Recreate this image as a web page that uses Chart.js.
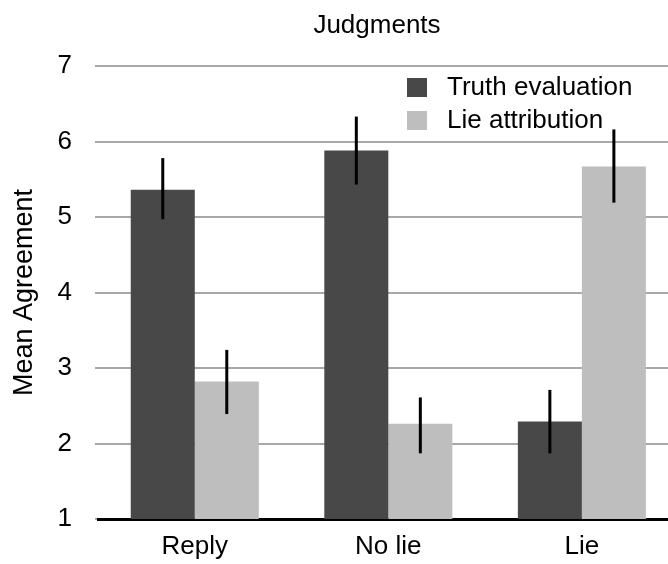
<!DOCTYPE html>
<html>
<head>
<meta charset="utf-8">
<title>Judgments</title>
<script src="https://cdn.jsdelivr.net/npm/chart.js@4.4.1/dist/chart.umd.min.js"></script>
<style>
  html, body { margin: 0; padding: 0; background: #ffffff; overflow: hidden; }
  #wrap { width: 668px; height: 564px; position: relative; }
</style>
</head>
<body>
<div id="wrap"><canvas id="chart1"></canvas></div>
<script>
// Chart data
const categories = ['Reply', 'No lie', 'Lie'];
const seriesNames = ['Truth evaluation', 'Lie attribution'];
const truthValues = [5.36, 5.88, 2.29];
const truthLow = [4.97, 5.43, 1.87];
const truthHigh = [5.78, 6.33, 2.71];
const lieValues = [2.82, 2.26, 5.67];
const lieLow = [2.39, 1.87, 5.19];
const lieHigh = [3.24, 2.61, 6.16];
const yTicks = [1, 2, 3, 4, 5, 6, 7];

const FONT = "'Liberation Sans', Arial, Helvetica, sans-serif";
const darkColor = '#484848';
const lightColor = '#bebebe';

function toPoints(values) {
    return values.map((v, i) => ({ x: i, y: v }));
}

// Error bars
const errorBarPlugin = {
    id: 'errorBars',
    afterDatasetsDraw(chart) {
        const ctx = chart.ctx;
        const yScale = chart.scales.y;
        chart.data.datasets.forEach((ds, d) => {
            const meta = chart.getDatasetMeta(d);
            meta.data.forEach((bar, i) => {
                const yLo = yScale.getPixelForValue(ds.errLow[i]);
                const yHi = yScale.getPixelForValue(ds.errHigh[i]);
                ctx.save();
                ctx.strokeStyle = '#000000';
                ctx.lineWidth = 3;
                ctx.beginPath();
                ctx.moveTo(bar.x, yLo);
                ctx.lineTo(bar.x, yHi);
                ctx.stroke();
                ctx.restore();
            });
        });
    }
};

// Title over the plot, legend inside the plot
const titleLegendPlugin = {
    id: 'titleLegend',
    afterDraw(chart) {
        const ctx = chart.ctx;
        ctx.save();
        ctx.fillStyle = '#000000';
        ctx.font = '26px ' + FONT;
        ctx.textBaseline = 'middle';
        ctx.textAlign = 'center';
        ctx.fillText('Judgments', 377, 26);

        ctx.textAlign = 'left';
        chart.data.datasets.forEach((ds, d) => {
            const cy = 88 + d * 33;
            ctx.fillStyle = ds.backgroundColor;
            ctx.fillRect(407, cy - 10, 20, 19);
            ctx.fillStyle = '#000000';
            ctx.fillText(ds.label, 447, cy);
        });
        ctx.restore();
    }
};

const ctx1 = document.getElementById('chart1').getContext('2d');
const myChart1 = new Chart(ctx1, {
    type: 'bar',
    data: {
        datasets: [{
            label: seriesNames[0],
            data: toPoints(truthValues),
            errLow: truthLow,
            errHigh: truthHigh,
            backgroundColor: darkColor,
            borderWidth: 0
        }, {
            label: seriesNames[1],
            data: toPoints(lieValues),
            errLow: lieLow,
            errHigh: lieHigh,
            backgroundColor: lightColor,
            borderWidth: 0
        }]
    },
    options: {
        responsive: true,
        maintainAspectRatio: false,
        animation: false,
        categoryPercentage: 0.6615,
        barPercentage: 1,
        layout: { padding: { top: 66, left: 0, right: 0, bottom: 0 } },
        plugins: {
            legend: { display: false },
            tooltip: { enabled: false },
            title: { display: false }
        },
        scales: {
            x: {
                type: 'linear',
                offset: false,
                min: -0.5,
                max: 2.445,
                afterBuildTicks: function (scale) {
                    scale.ticks = categories.map((c, i) => ({ value: i }));
                },
                afterFit: function (scale) {
                    scale.height = 45;
                },
                grid: { display: false, drawTicks: false, offset: false },
                border: { display: true, color: '#000000', width: 3 },
                ticks: {
                    autoSkip: false,
                    maxRotation: 0,
                    padding: 12,
                    color: '#000000',
                    font: { family: FONT, size: 26 },
                    callback: function (value) {
                        return categories[value];
                    }
                }
            },
            y: {
                min: yTicks[0],
                max: yTicks[yTicks.length - 1],
                afterBuildTicks: function (scale) {
                    scale.ticks = yTicks.map(v => ({ value: v }));
                },
                afterFit: function (scale) {
                    scale.width = 98;
                },
                grid: {
                    color: '#a8a8a8',
                    lineWidth: 2,
                    drawTicks: true,
                    tickLength: 3
                },
                border: { display: false },
                ticks: {
                    padding: 23,
                    color: '#000000',
                    font: { family: FONT, size: 26 }
                },
                title: {
                    display: true,
                    text: 'Mean Agreement',
                    color: '#000000',
                    font: { family: FONT, size: 27 },
                    padding: { top: 8, bottom: 0 }
                }
            }
        }
    },
    plugins: [errorBarPlugin, titleLegendPlugin]
});
</script>
</body>
</html>
